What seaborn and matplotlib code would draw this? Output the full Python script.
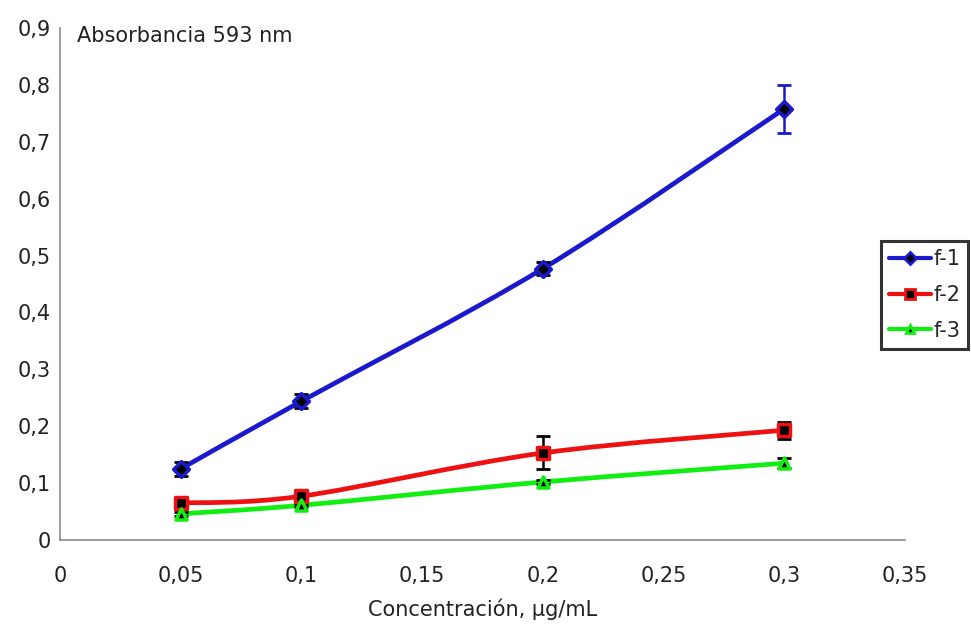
import numpy as np
import pandas as pd
import matplotlib
matplotlib.use("Agg")
import matplotlib.pyplot as plt
from matplotlib.path import Path
from matplotlib.patches import PathPatch
from matplotlib.lines import Line2D
import seaborn as sns

# ---- data ----
conc = [0.05, 0.1, 0.2, 0.3]
f1 = [0.125, 0.244, 0.477, 0.758]
f1_err = [0.012, 0.012, 0.012, 0.042]
f2 = [0.065, 0.077, 0.153, 0.193]
f2_err = [0.005, 0.005, 0.029, 0.015]
f3 = [0.046, 0.061, 0.102, 0.135]
f3_err = [0.003, 0.003, 0.004, 0.009]
series_names = ["f-1", "f-2", "f-3"]
x_ticks = [0, 0.05, 0.1, 0.15, 0.2, 0.25, 0.3, 0.35]
x_ticklabels = ["0", "0,05", "0,1", "0,15", "0,2", "0,25", "0,3", "0,35"]
y_ticks = [0, 0.1, 0.2, 0.3, 0.4, 0.5, 0.6, 0.7, 0.8, 0.9]
y_ticklabels = ["0", "0,1", "0,2", "0,3", "0,4", "0,5", "0,6", "0,7", "0,8", "0,9"]

sns.set_style("white")
plt.rcParams['font.family'] = ['DejaVu Sans']

FS = 15
colors = {"f-1": "#1a1acc", "f-2": "#ee1111", "f-3": "#11ee11"}
markers = {"f-1": "D", "f-2": "s", "f-3": "^"}
msizes = {"f-1": 8, "f-2": 9, "f-3": 8}
errcols = {"f-1": ["black", "black", "black", "#1a1acc"],
           "f-2": ["black"] * 4, "f-3": ["black"] * 4}

df = pd.DataFrame({
    "conc": conc * 3,
    "val": f1 + f2 + f3,
    "err": f1_err + f2_err + f3_err,
    "serie": ["f-1"] * 4 + ["f-2"] * 4 + ["f-3"] * 4,
})

fig = plt.figure(figsize=(9.71, 6.26), dpi=100)
ax = fig.add_axes([60 / 971, 1 - 540 / 626, (905 - 60) / 971, (540 - 28) / 626])


def smooth_path(xs, ys):
    pts = np.column_stack([xs, ys])
    n = len(pts)
    verts = [pts[0]]
    codes = [Path.MOVETO]
    for i in range(n - 1):
        p0 = pts[i - 1] if i > 0 else pts[i]
        p1 = pts[i]
        p2 = pts[i + 1]
        p3 = pts[i + 2] if i + 2 < n else pts[i + 1]
        c1 = p1 + (p2 - p0) / 6.0
        c2 = p2 - (p3 - p1) / 6.0
        verts += [c1, c2, p2]
        codes += [Path.CURVE4] * 3
    return Path(verts, codes)


for name in series_names:
    sub = df[df.serie == name]
    patch = PathPatch(smooth_path(sub.conc.values, sub.val.values), facecolor="none",
                      edgecolor=colors[name], lw=3.4, zorder=2)
    ax.add_patch(patch)
    for xv, yv, ev, ec in zip(sub.conc, sub.val, sub.err, errcols[name]):
        ax.errorbar([xv], [yv], yerr=[ev], fmt="none", ecolor=ec, elinewidth=1.8,
                    capsize=5, capthick=2, zorder=3)

for name in series_names:
    sub = df[df.serie == name]
    sns.scatterplot(data=sub, x="conc", y="val", ax=ax, marker=markers[name],
                    s=msizes[name] ** 2, color="black", edgecolor=colors[name],
                    linewidth=2.5, zorder=4, legend=False)

ax.set_xlim(0, 0.35)
ax.set_ylim(0, 0.9)
ax.set_xticks(x_ticks)
ax.set_xticklabels(x_ticklabels)
ax.set_yticks(y_ticks)
ax.set_yticklabels(y_ticklabels)
ax.tick_params(axis="x", length=0, pad=19, labelsize=FS, colors="#222222")
ax.tick_params(axis="y", length=0, pad=6.5, labelsize=FS, colors="#222222")
for s in ["top", "right"]:
    ax.spines[s].set_visible(False)
for s in ["left", "bottom"]:
    ax.spines[s].set_color("#8c8c8c")
    ax.spines[s].set_linewidth(1.2)
ax.set_xlabel("Concentración, µg/mL", fontsize=FS, color="#222222", labelpad=9)
ax.set_ylabel("")
ax.grid(False)

fig.text(77 / 971, 1 - 36 / 626, "Absorbancia 593 nm", fontsize=FS, color="#222222",
         va="center", ha="left")

handles = [Line2D([0], [0], color=colors[n], lw=3, marker=markers[n],
                  markersize=msizes[n] - 2, markerfacecolor="black",
                  markeredgecolor=colors[n], markeredgewidth=2) for n in series_names]
leg = fig.legend(handles, series_names, loc="upper left",
                 bbox_to_anchor=(881 / 971, 1 - 241 / 626), frameon=True,
                 fontsize=FS, handlelength=2.0, handletextpad=0.1,
                 borderpad=0.4, labelspacing=0.75, fancybox=False,
                 borderaxespad=0)
leg.get_frame().set_edgecolor("black")
leg.get_frame().set_linewidth(2.2)

fig.savefig("out.png", dpi=100)
